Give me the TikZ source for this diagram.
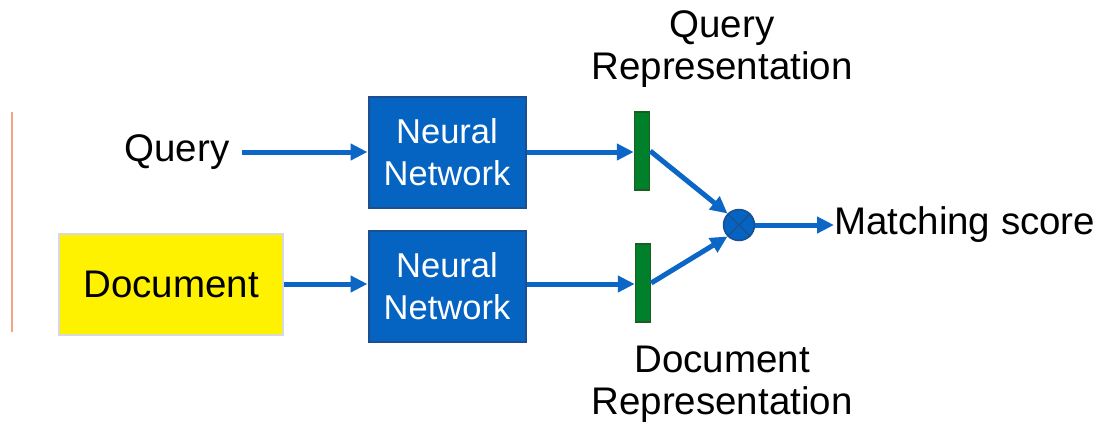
\documentclass[tikz,border=0pt]{standalone}
\usepackage{fontspec}
\setmainfont{Liberation Sans}
\usetikzlibrary{arrows.meta}
\definecolor{arrowblue}{HTML}{0B66C6}
\definecolor{boxblue}{HTML}{0563C1}
\definecolor{boxedge}{HTML}{1B4F8F}
\definecolor{barfill}{HTML}{00802B}
\definecolor{baredge}{HTML}{1B5E20}
\definecolor{docedge}{HTML}{D9D9D9}
\definecolor{sidebar}{HTML}{F4A582}
\tikzset{
  conn/.style={draw=arrowblue, line width=5pt, -{Triangle[length=17pt,width=16pt]}},
  nnbox/.style={draw=boxedge, line width=2pt, fill=boxblue, minimum width=157pt, minimum height=111pt, inner sep=0pt, text=white, align=center, font=\fontsize{34.5}{42}\selectfont},
  repbar/.style={draw=baredge, line width=1.5pt, fill=barfill, minimum width=15pt, minimum height=78pt, inner sep=0pt},
  lbl/.style={font=\fontsize{38.5}{42}\selectfont, inner sep=0pt, align=center},
}
\begin{document}
\begin{tikzpicture}[x=1pt,y=-1pt]
\useasboundingbox (0,0) rectangle (1101,426);
\draw[sidebar, line width=1.2pt] (12,112) -- (12,332);
\node[lbl] (query) at (177,152) {Query};
\node[draw=docedge, line width=2pt, fill=yellow, minimum width=224pt, minimum height=101pt, inner sep=0pt, font=\fontsize{38.5}{42}\selectfont] (doc) at (171,284) {Document};
\node[nnbox] (nn1) at (447,152) {Neural\\Network};
\node[nnbox] (nn2) at (447,286) {Neural\\Network};
\node[repbar] (qr) at (642,151) {};
\node[repbar] (dr) at (643,283) {};
\node[circle, draw=boxedge, line width=1.5pt, fill=boxblue, minimum size=31pt, inner sep=0pt] (mul) at (739,225) {};
\draw[boxedge, line width=1.2pt] (mul.north west) -- (mul.south east) (mul.north east) -- (mul.south west);
\node[lbl, anchor=west] (score) at (834,225) {Matching score};
\node[lbl] (qrl) at (722,49) {Query\\Representation};
\node[lbl] (drl) at (722,384) {Document\\Representation};
\draw[conn] (query.east) ++(12,0) coordinate (qs) -- (nn1.west);
\draw[conn] (doc.east) -- (doc.east -| nn2.west);
\draw[conn] (nn1.east) -- (nn1.east -| qr.west);
\draw[conn] (doc.east -| nn2.east) -- (doc.east -| dr.west);
\draw[conn] (qr.east) -- (mul.north west);
\draw[conn] (dr.east) -- (mul.south west);
\draw[conn] (mul.east) -- (score.west);
\end{tikzpicture}
\end{document}
